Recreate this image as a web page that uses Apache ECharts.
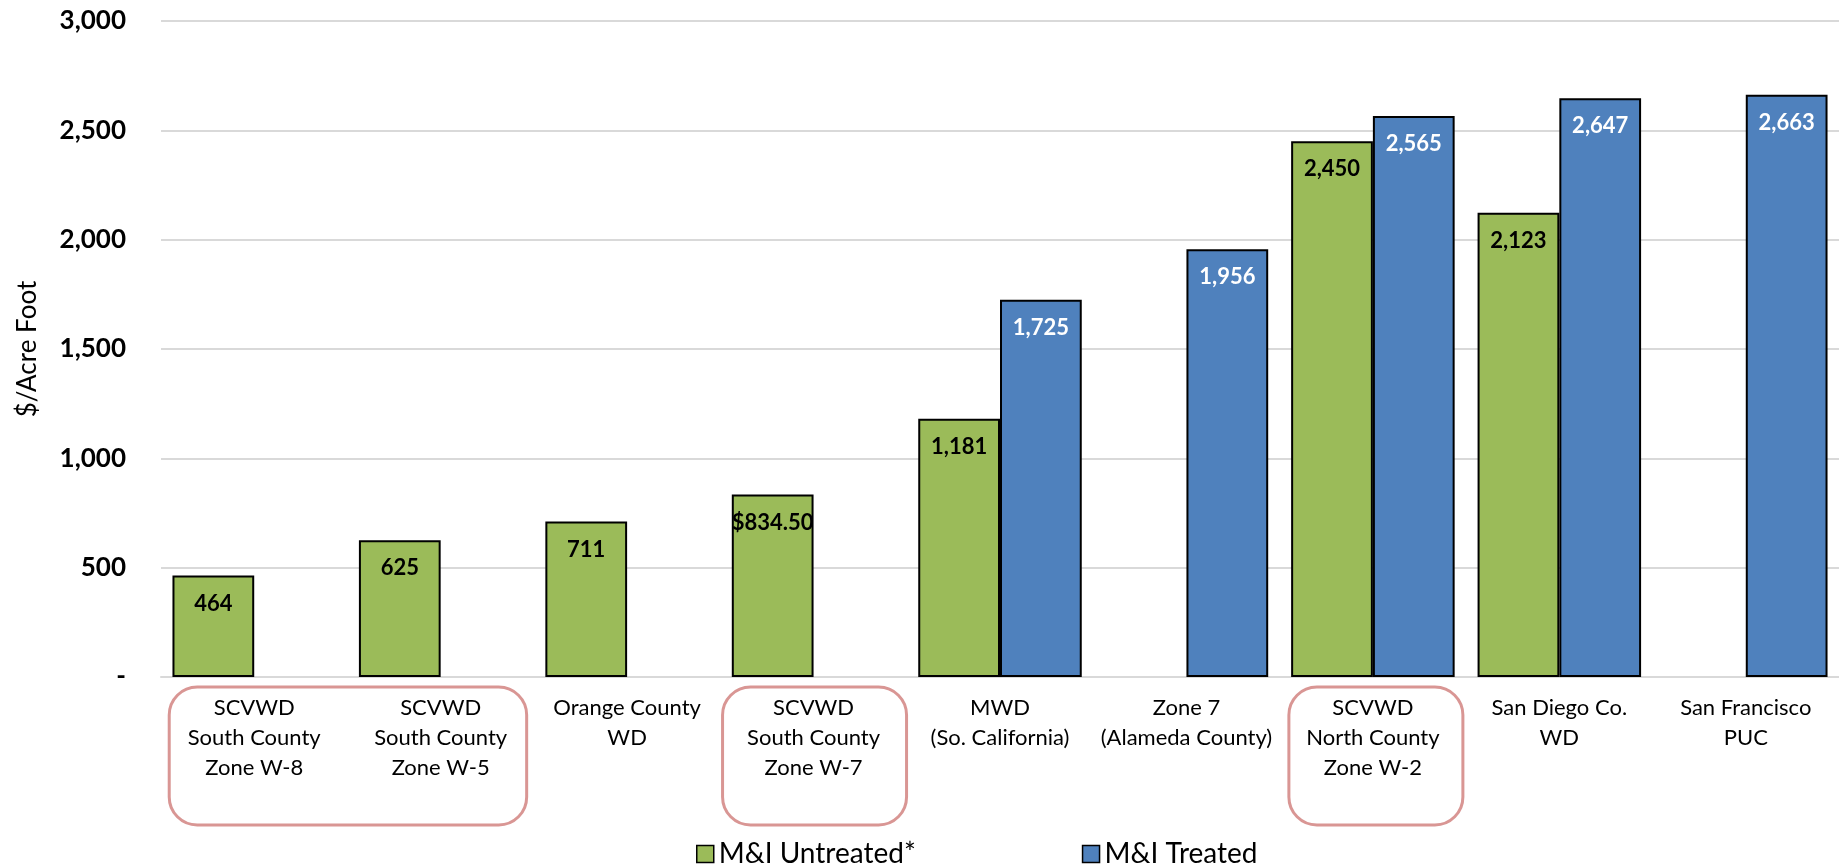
<!DOCTYPE html>
<html>
<head>
<meta charset="utf-8">
<script src="https://cdn.jsdelivr.net/npm/echarts@6/dist/echarts.min.js"></script>
<style>
html,body{margin:0;padding:0;background:#fff;}
#chart{width:1839px;height:866px;}
</style>
</head>
<body>
<div id="chart"></div>
<script>
const categories = [
  "SCVWD\nSouth County\nZone W-8",
  "SCVWD\nSouth County\nZone W-5",
  "Orange County\nWD",
  "SCVWD\nSouth County\nZone W-7",
  "MWD\n(So. California)",
  "Zone 7\n(Alameda County)",
  "SCVWD\nNorth County\nZone W-2",
  "San Diego Co.\nWD",
  "San Francisco\nPUC"
];
const untreated = [464, 625, 711, 834.5, 1181, null, 2450, 2123, null];
const treated = [null, null, null, null, 1725, 1956, 2565, 2647, 2663];
const seriesNames = ["M&I Untreated*", "M&I Treated"];
const yTicks = { min: 0, max: 3000, interval: 500 };
// highlighted category groups (first index, last index)
const highlightGroups = [[0, 1], [3, 3], [6, 6]];

const FONT = 'Lato';
function fmtNum(v) {
  if (Number.isInteger(v)) return v.toLocaleString('en-US');
  return '$' + v.toFixed(2);
}

const chart = echarts.init(document.getElementById('chart'));
const option = {
  animation: false,
  backgroundColor: '#fff',
  textStyle: { fontFamily: FONT },
  grid: { left: 161, right: -5, top: 21, bottom: 189, containLabel: false },
  legend: {
    left: 691,
    top: 835,
    itemWidth: 17,
    itemHeight: 17,
    itemGap: 166,
    icon: 'rect',
    textStyle: { fontFamily: FONT, fontSize: 28, color: '#000' },
    itemStyle: { borderColor: '#000', borderWidth: 1.5 },
    data: seriesNames
  },
  xAxis: {
    type: 'category',
    data: categories,
    axisLine: { show: true, lineStyle: { color: '#d9d9d9', width: 2 } },
    axisTick: { show: false },
    axisLabel: {
      interval: 0,
      fontFamily: FONT,
      fontSize: 22,
      lineHeight: 30,
      color: '#000',
      margin: 16,
      align: 'center'
    }
  },
  yAxis: {
    type: 'value',
    min: yTicks.min,
    max: yTicks.max,
    interval: yTicks.interval,
    name: '$/Acre Foot',
    nameLocation: 'middle',
    nameRotate: 90,
    nameGap: 120,
    nameTextStyle: { fontFamily: FONT, fontSize: 26, color: '#000' },
    axisLine: { show: false },
    axisTick: { show: false },
    splitLine: { lineStyle: { color: '#d9d9d9', width: 2 } },
    axisLabel: {
      fontFamily: FONT,
      fontSize: 26,
      fontWeight: 'bold',
      color: '#000',
      margin: 35,
      formatter: v => v === 0 ? '-' : v.toLocaleString('en-US')
    }
  },
  series: [
    {
      name: seriesNames[0],
      type: 'bar',
      data: untreated,
      barGap: '0%',
      barCategoryGap: '12.3%',
      itemStyle: { color: '#9bbb59', borderColor: '#000', borderWidth: 2 },
      label: {
        show: true,
        position: 'insideTop',
        distance: 17,
        fontFamily: FONT,
        fontSize: 22,
        fontWeight: 'bold',
        color: '#000',
        formatter: p => fmtNum(p.value)
      }
    },
    {
      name: seriesNames[1],
      type: 'bar',
      data: treated,
      barGap: '0%',
      barCategoryGap: '12.3%',
      itemStyle: { color: '#4f81bd', borderColor: '#000', borderWidth: 2 },
      label: {
        show: true,
        position: 'insideTop',
        distance: 17,
        fontFamily: FONT,
        fontSize: 22,
        fontWeight: 'bold',
        color: '#fff',
        formatter: p => fmtNum(p.value)
      }
    }
  ]
};
chart.setOption(option);

// Rounded highlight boxes around selected category labels
const padL = [85, 91, 84];
const padR = [86, 93, 90];
const graphics = highlightGroups.map((g, i) => {
  const x0 = chart.convertToPixel({ xAxisIndex: 0 }, g[0]);
  const x1 = chart.convertToPixel({ xAxisIndex: 0 }, g[1]);
  const yBase = chart.convertToPixel({ yAxisIndex: 0 }, 0);
  const left = x0 - padL[i];
  const right = x1 + padR[i];
  return {
    type: 'rect',
    silent: true,
    z: 10,
    shape: { x: left, y: yBase + 10, width: right - left, height: 138, r: 28 },
    style: { fill: 'none', stroke: '#d99694', lineWidth: 3 }
  };
});
chart.setOption({ graphic: graphics });
</script>
</body>
</html>
